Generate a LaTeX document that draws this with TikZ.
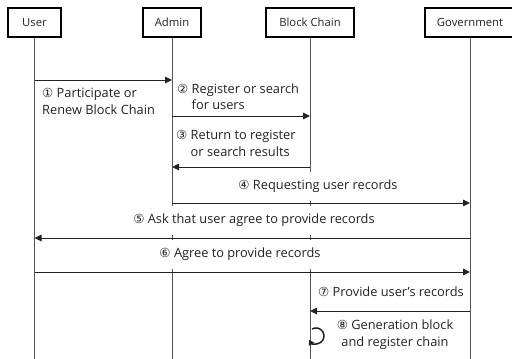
\documentclass[tikz,border=0pt]{standalone}
\usepackage{fontspec}
\setmainfont{Open Sans}
\newfontfamily\circfont{DejaVu Sans}
\usetikzlibrary{arrows.meta}
\newcommand\cnum[1]{{\circfont\fontsize{12.5}{12.5}\selectfont #1}}
\definecolor{ink}{HTML}{222222}
\definecolor{lifecol}{HTML}{555555}
\tikzset{
  actor/.style={draw=black, line width=1.3pt, minimum height=29pt, inner sep=0pt, font=\fontsize{11.3}{12}\selectfont, text=ink},
  life/.style={draw=lifecol, line width=0.9pt},
  msg/.style={draw=ink, line width=0.9pt, -{Triangle[length=7pt,width=6.5pt]}},
  lbl/.style={font=\fontsize{12.8}{16.5}\selectfont, text=ink, inner sep=1pt},
  cover/.style={lbl, fill=white, minimum height=29pt, inner xsep=3pt}
}
\begin{document}
\begin{tikzpicture}[x=1pt,y=-1pt]
\useasboundingbox (0,0) rectangle (512,359);
% actors
\node[actor, minimum width=53pt] (user) at (34.5,22.5) {User};
\node[actor, minimum width=58pt] (admin) at (172,22.5) {Admin};
\node[actor, minimum width=88pt] (bc) at (310,22.5) {Block Chain};
\node[actor, minimum width=90pt] (gov) at (470,22.5) {Government};
% lifeline ends
\coordinate (bottom) at (0,359);
\draw[life] (user.south) -- (user |- bottom);
\draw[life] (admin.south) -- (admin |- bottom);
\draw[life] (bc.south) -- (bc |- bottom);
\draw[life] (gov.south) -- (gov |- bottom);
% message rows
\coordinate (r1) at (0,80);
\coordinate (r2) at (0,116);
\coordinate (r3) at (0,167);
\coordinate (r4) at (0,203);
\coordinate (r5) at (0,238);
\coordinate (r6) at (0,272);
\coordinate (r7) at (0,311);
% labels
\node[lbl, anchor=west, align=left] (l1) at (41,101.5) {\cnum{①} Participate or\\Renew Block Chain};
\node[lbl, anchor=west, align=left] (l2) at (176,96.5) {\cnum{②} Register or search\\\hphantom{\cnum{①} }for users};
\node[lbl, anchor=west, align=left] (l3) at (175,143.5) {\cnum{③} Return to register\\\hphantom{\cnum{①} }or search results};
\node[cover] (l4) at (318,186.5) {\cnum{④} Requesting user records};
\node[cover] (l5) at (254,220) {\cnum{⑤} Ask that user agree to provide records};
\node[cover] (l6) at (240,254) {\cnum{⑥} Agree to provide records};
\node[lbl] (l7) at (391,292) {\cnum{⑦} Provide user's records};
\node[lbl, align=center] (l8) at (395,334.5) {\cnum{⑧} Generation block\\and register chain};
% messages
\draw[msg] (user |- r1) -- (admin |- r1);
\draw[msg] (admin |- r2) -- (bc |- r2);
\draw[msg] (bc |- r3) -- (admin |- r3);
\draw[msg] (admin |- r4) -- (gov |- r4);
\draw[msg] (gov |- r5) -- (user |- r5);
\draw[msg] (user |- r6) -- (gov |- r6);
\draw[msg] (gov |- r7) -- (bc |- r7);
% self loop
\coordinate (loop8) at (312,329);
\draw[msg, line width=1.5pt, -{Triangle[length=5pt,width=6pt]}] (loop8) arc[start angle=120, end angle=-150, radius=8pt];
\end{tikzpicture}
\end{document}
